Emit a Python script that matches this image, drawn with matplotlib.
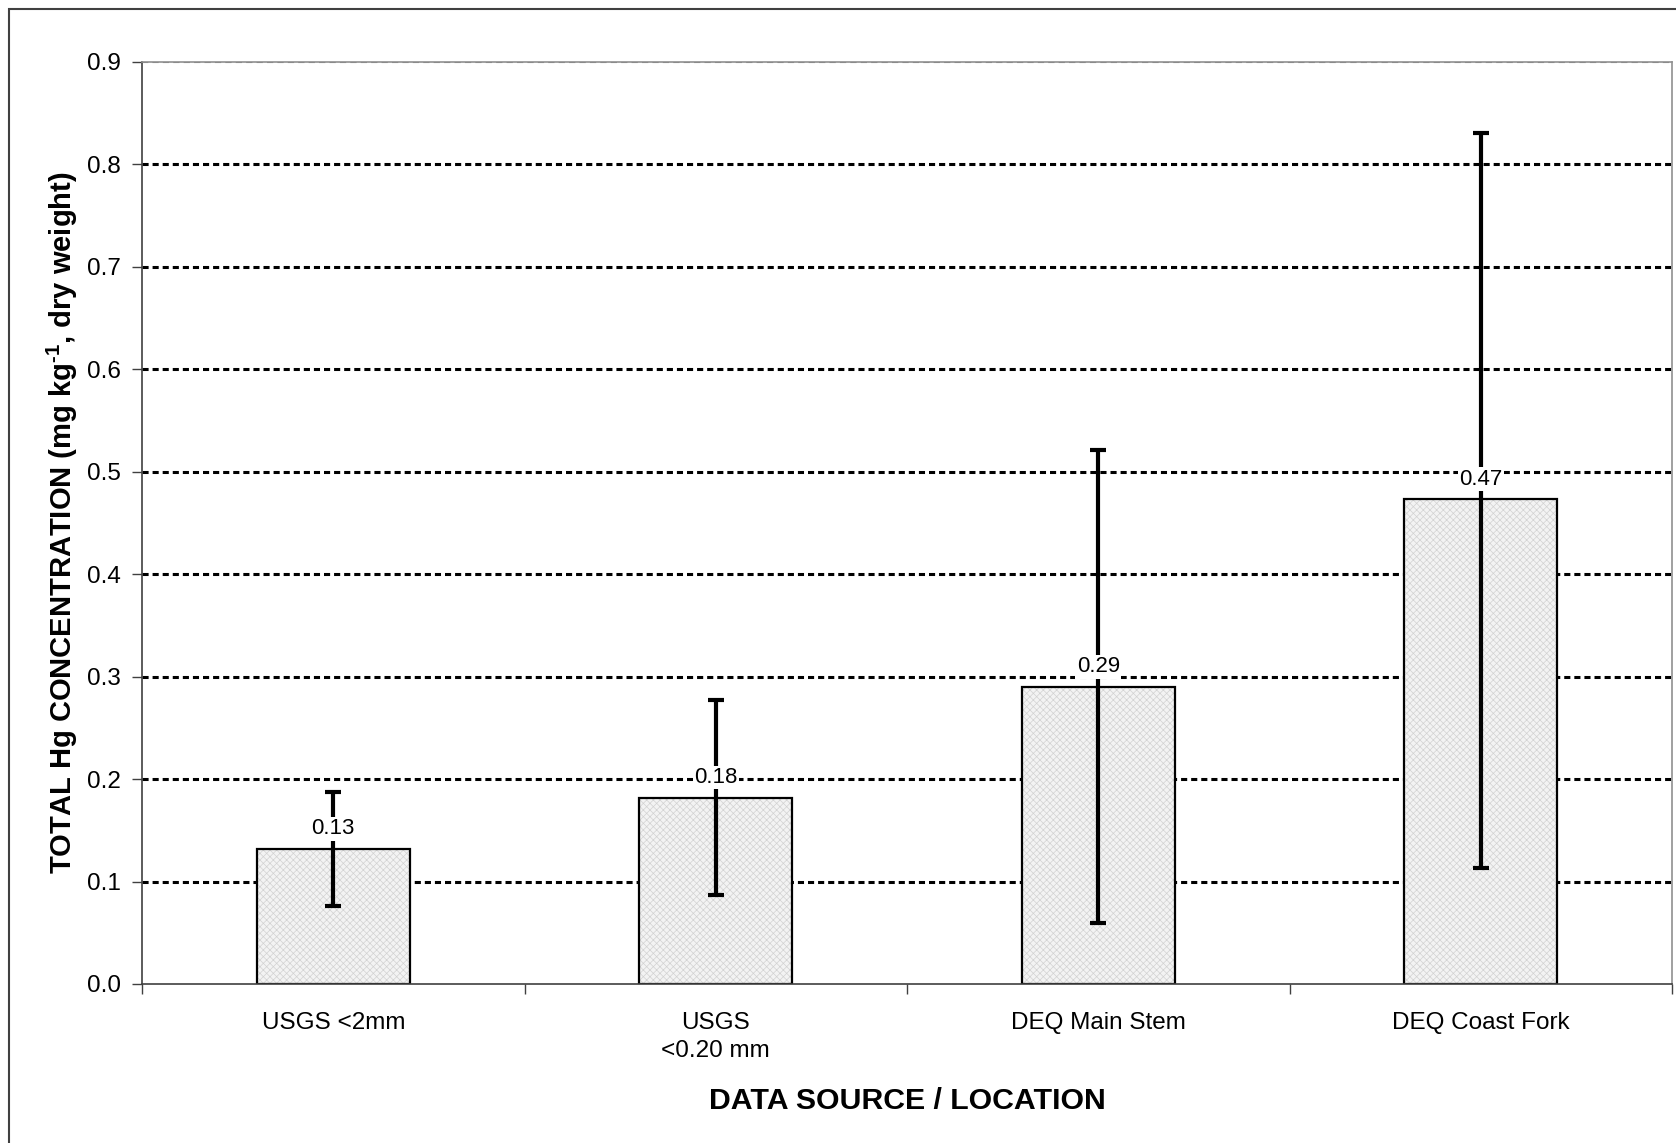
import numpy as np
import matplotlib.pyplot as plt
from matplotlib.patches import Rectangle

plt.rcParams['font.family'] = ['Liberation Sans', 'DejaVu Sans']
plt.rcParams['mathtext.fontset'] = 'custom'
plt.rcParams['mathtext.rm'] = 'Liberation Sans:bold'
plt.rcParams['mathtext.it'] = 'Liberation Sans:bold'
plt.rcParams['mathtext.bf'] = 'Liberation Sans:bold'
plt.rcParams['hatch.linewidth'] = 0.5

# data
categories = ['USGS <2mm', 'USGS\n<0.20 mm', 'DEQ Main Stem', 'DEQ Coast Fork']
means = [0.1316, 0.1817, 0.290, 0.473]
upper = [0.187, 0.277, 0.521, 0.831]
lower = [0.076, 0.087, 0.060, 0.113]

fig = plt.figure(figsize=(16.76, 11.43), dpi=100)
ax = fig.add_axes([142 / 1676, 1 - 984 / 1143, (1672 - 142) / 1676, (984 - 62) / 1143])

x = np.arange(len(categories))
err = [np.array(means) - np.array(lower), np.array(upper) - np.array(means)]

# light crosshatch fill, then black outline on top
ax.bar(x, means, width=0.4, facecolor='#f3f3f3', edgecolor='#d2d2d2',
       linewidth=0, hatch='xxxxx', zorder=2)
ax.bar(x, means, width=0.4, fill=False, edgecolor='black', linewidth=1.6, zorder=2)
ax.errorbar(x, means, yerr=err, fmt='none', ecolor='black', elinewidth=3,
            capsize=6, capthick=3, zorder=3)

for xi, m in zip(x, means):
    ax.annotate(f'{m:.2f}', (xi, m), xytext=(0, 7), textcoords='offset points',
                ha='center', va='bottom', fontsize=16, zorder=4,
                bbox=dict(facecolor='white', edgecolor='none', pad=1))

# gridlines
for yv in np.arange(0.1, 0.85, 0.1):
    ax.axhline(yv, color='black', lw=2.2, ls=(0, (2, 1.3)), zorder=1)
ax.axhline(0.9, color='#707070', lw=1.5, ls=(0, (3, 2)), zorder=1)

ax.set_xlim(-0.5, len(categories) - 0.5)
ax.set_ylim(0, 0.9)
ax.set_yticks(np.arange(0, 0.91, 0.1))
ax.set_yticklabels([f'{v:.1f}' for v in np.arange(0, 0.91, 0.1)])

ax.set_xticks(np.arange(-0.5, len(categories), 1.0))
ax.set_xticklabels([])
ax.set_xticks(x, minor=True)
ax.set_xticklabels(categories, minor=True, linespacing=1.35)
ax.tick_params(axis='x', which='major', direction='out', length=7, width=1, color='#404040')
ax.tick_params(axis='x', which='minor', length=0, pad=20, labelsize=17.5)
ax.tick_params(axis='y', direction='out', length=7, width=1, color='#404040',
               labelsize=17.5, pad=8)

for s in ['left', 'bottom']:
    ax.spines[s].set_color('#404040')
    ax.spines[s].set_linewidth(1.2)
for s in ['top', 'right']:
    ax.spines[s].set_color('#909090')
    ax.spines[s].set_linewidth(1.2)

ax.set_xlabel('DATA SOURCE / LOCATION', fontsize=21.8, fontweight='bold', labelpad=18)
ax.set_ylabel('TOTAL Hg CONCENTRATION (mg kg$^{\\text{-1}}$, dry weight)',
              fontsize=21, fontweight='bold', labelpad=5)

# outer frame
fig.patches.append(Rectangle((9 / 1676, -0.05), 1.2, 1 - 9 / 1143 + 0.05,
                             transform=fig.transFigure, fill=False,
                             edgecolor='#404040', linewidth=1.5))

fig.savefig('out.png', dpi=100)
